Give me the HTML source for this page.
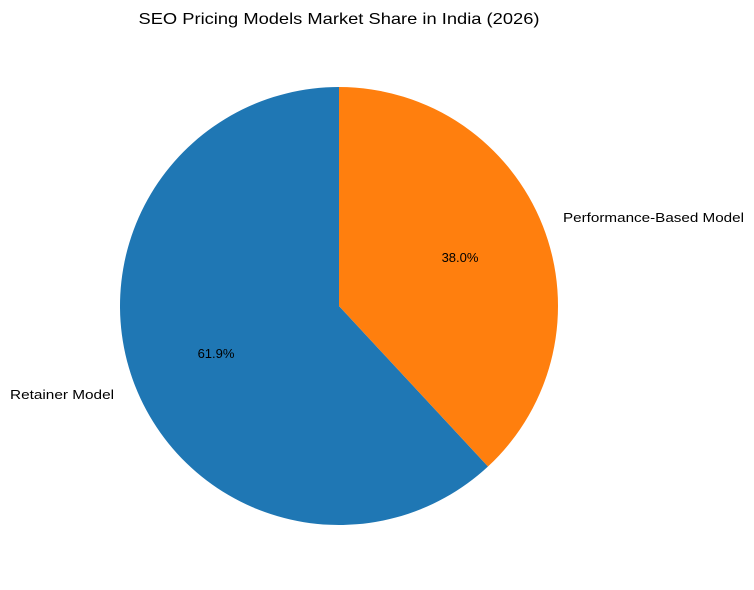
<!DOCTYPE html>
<html><head><meta charset="utf-8"><style>body{margin:0;background:#fff}svg{display:block}</style></head>
<body>
<svg width="754" height="590" xmlns="http://www.w3.org/2000/svg" font-family="Liberation Sans, DejaVu Sans, sans-serif">
<rect width="754" height="590" fill="#fff"/>
<text x="339" y="24" font-size="16" text-anchor="middle" fill="#000" textLength="401" lengthAdjust="spacingAndGlyphs">SEO Pricing Models Market Share in India (2026)</text>
<path d="M339,306 L339,87 A219,219 0 1,0 488,466.5 Z" fill="#1f77b4"/>
<path d="M339,306 L488,466.5 A219,219 0 0,0 339,87 Z" fill="#ff7f0e"/>
<text x="10" y="399" font-size="13" fill="#000" textLength="104" lengthAdjust="spacingAndGlyphs">Retainer Model</text>
<text x="563" y="222" font-size="13" fill="#000" textLength="181" lengthAdjust="spacingAndGlyphs">Performance-Based Model</text>
<text x="216" y="358" font-size="13" text-anchor="middle" fill="#000">61.9%</text>
<text x="460" y="262" font-size="13" text-anchor="middle" fill="#000">38.0%</text>
</svg>
</body></html>
